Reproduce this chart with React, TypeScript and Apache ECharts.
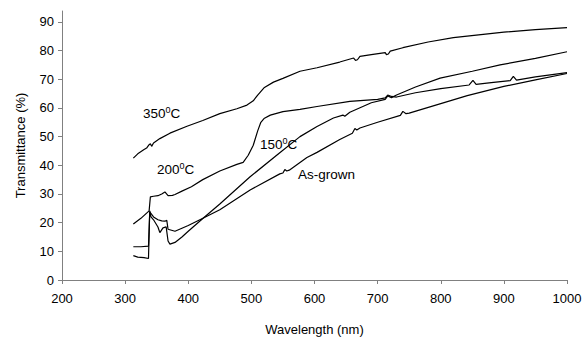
import React, { useEffect, useRef } from "react";
import * as echarts from "echarts";

const xTicks = [200, 300, 400, 500, 600, 700, 800, 900, 1000];
const yTicks = [0, 10, 20, 30, 40, 50, 60, 70, 80, 90];

const wl350 = [313, 320, 330, 334, 338, 340, 342, 345, 355, 371, 398, 423, 450, 477, 493, 503, 510, 520, 535, 550, 577, 604, 640, 662, 665, 668, 672, 690, 712, 714, 717, 720, 740, 780, 820, 860, 900, 950, 1000];
const t350 = [42.5, 44, 45.5, 46, 47.2, 47.5, 46.6, 47.8, 49.3, 51.2, 53.6, 55.6, 58, 59.7, 61, 62.5, 64.5, 67, 69, 70.3, 72.8, 74, 76, 77.4, 76.6, 76.8, 78, 78.6, 79.3, 78.6, 78.8, 79.8, 81, 83, 84.5, 85.5, 86.4, 87.3, 88];

const wl200 = [313, 325, 338, 340, 345, 352, 358, 363, 368, 375, 379, 390, 405, 423, 450, 477, 487, 495, 503, 510, 515, 520, 530, 550, 577, 604, 656, 700, 712, 716, 722, 730, 760, 800, 845, 851, 856, 880, 910, 915, 920, 950, 1000];
const t200 = [19.5, 21.5, 24.1, 29, 29.2, 29.4, 30, 30.7, 29.4, 29.5, 29.8, 31, 32.5, 35, 38, 40.3, 41, 43.5, 47, 52, 55, 56.3, 57.5, 58.7, 59.5, 60.5, 62.3, 63, 63.5, 64.5, 64, 63.8, 65.3, 66.7, 68, 69.6, 68.2, 68.8, 69.5, 71, 69.7, 70.8, 72.3];

const wl150 = [313, 320, 330, 337, 339, 341, 345, 352, 355, 360, 365, 368, 371, 379, 390, 400, 424, 450, 498, 545, 577, 604, 630, 645, 648, 652, 656, 690, 712, 716, 722, 730, 760, 799, 850, 894, 950, 1000];
const t150 = [8.5, 8, 7.8, 7.5, 24.1, 22, 21, 18.5, 16.5, 18.2, 18.5, 13.6, 12.5, 13.1, 15, 17, 21.6, 26.5, 36, 44.4, 50, 53.5, 56.5, 57.5, 57.1, 57.8, 58.5, 61.8, 63, 64.2, 63.6, 64.5, 67.3, 70.4, 72.8, 75, 77.3, 79.6];

const wlAs = [313, 325, 337, 339, 345, 352, 358, 363, 366, 368, 379, 400, 424, 450, 498, 545, 550, 553, 556, 560, 588, 604, 640, 660, 664, 667, 672, 700, 736, 740, 745, 750, 800, 842, 900, 950, 1000];
const tAs = [11.6, 11.6, 11.8, 23.8, 22, 21, 20.6, 20.5, 20.8, 17.7, 17, 19, 21.6, 24.5, 31.4, 37, 37.3, 38.5, 38, 38.3, 42.7, 44.5, 49, 51.2, 52.8, 52.3, 53, 55, 57.4, 58.8, 58, 58.2, 61.5, 64.3, 67.5, 69.8, 72];

const seriesNames = ["350", "200", "150", "As-grown"];

const pairs = (xs: number[], ys: number[]) => xs.map((x, i) => [x, ys[i]]);

export default function App() {
  const ref = useRef<HTMLDivElement>(null);
  useEffect(() => {
    document.body.style.margin = "0";
    const chart = echarts.init(ref.current!, undefined, { renderer: "svg" });
    const font = "Liberation Sans, Arial, sans-serif";
    const lineStyle = { color: "#000", width: 1.2 };
    const mk = (name: string, xs: number[], ys: number[]) => ({
      name,
      type: "line",
      data: pairs(xs, ys),
      symbol: "none",
      lineStyle,
      silent: true,
    });
    const rich = {
      s: { fontSize: 9, fontFamily: font, fill: "#000", padding: [0, 0, 7, 0] },
    };
    const lbl = (x: number, y: number, text: string) => ({
      type: "text",
      x,
      y,
      style: {
        text,
        fill: "#000",
        fontSize: 13.5,
        fontFamily: font,
        rich,
        verticalAlign: "middle",
      },
    });
    chart.setOption({
      animation: false,
      backgroundColor: "#fff",
      grid: { left: 62, right: 18, top: 11, bottom: 56 },
      xAxis: {
        type: "value",
        min: 200,
        max: 1000,
        interval: 100,
        name: "Wavelength (nm)",
        nameLocation: "middle",
        nameGap: 43,
        nameTextStyle: { color: "#000", fontSize: 13, fontFamily: font },
        axisLine: { lineStyle: { color: "#808080", width: 1 } },
        axisTick: { show: true, length: 4, lineStyle: { color: "#808080" }, customValues: xTicks },
        axisLabel: {
          color: "#000",
          fontSize: 13,
          fontFamily: font,
          margin: 12,
          customValues: xTicks,
          formatter: (v: number) => String(v),
        },
        splitLine: { show: false },
      },
      yAxis: {
        type: "value",
        min: 0,
        max: 93.8,
        name: "Transmittance (%)",
        nameLocation: "middle",
        nameGap: 35,
        nameTextStyle: { color: "#000", fontSize: 13, fontFamily: font },
        axisLine: { show: true, lineStyle: { color: "#808080", width: 1 } },
        axisTick: { show: true, length: 4, lineStyle: { color: "#808080" }, customValues: yTicks },
        axisLabel: {
          color: "#000",
          fontSize: 13,
          fontFamily: font,
          margin: 8,
          customValues: yTicks,
          formatter: (v: number) => String(v),
        },
        splitLine: { show: false },
      },
      series: [
        mk(seriesNames[0], wl350, t350),
        mk(seriesNames[1], wl200, t200),
        mk(seriesNames[2], wl150, t150),
        mk(seriesNames[3], wlAs, tAs),
      ],
      graphic: [
        lbl(143, 113, "350{s|0}C"),
        lbl(157, 169, "200{s|0}C"),
        lbl(260, 144, "150{s|0}C"),
        lbl(298, 174, "As-grown"),
      ],
    });
    return () => chart.dispose();
  }, []);
  return <div ref={ref} style={{ width: 585, height: 341 }} />;
}
